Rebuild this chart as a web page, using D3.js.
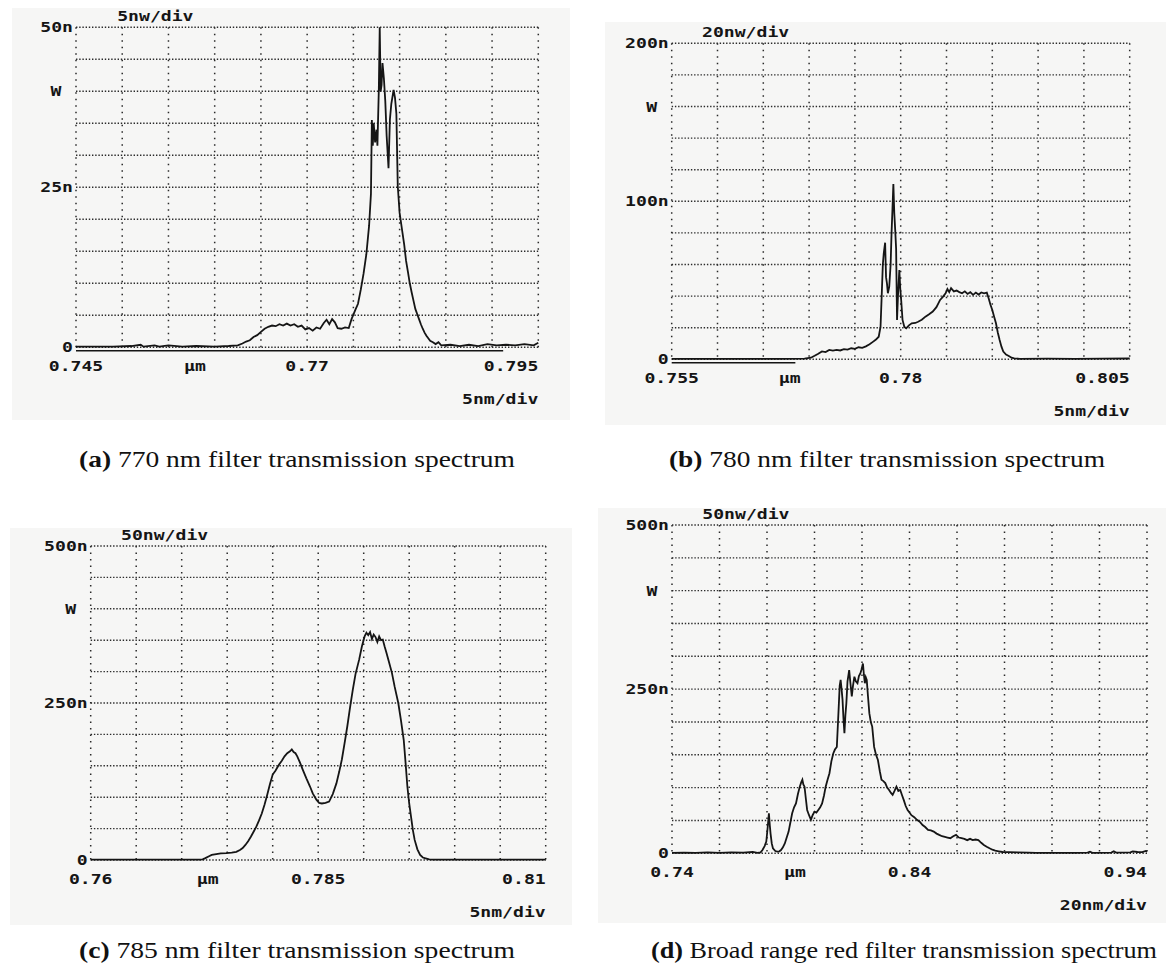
<!DOCTYPE html>
<html>
<head>
<meta charset="utf-8">
<script src="https://cdn.jsdelivr.net/npm/d3@7"></script>
<style>
  body { margin: 0; background: #ffffff; }
  svg { display: block; }
</style>
</head>
<body>
<svg id="fig" width="1173" height="972"></svg>
<script>
// ---------------- Spectra (wavelength in nm, power in nW) ----------------

// (a) 770 nm filter
const wavelengthA = [745.0,747.0,749.0,751.0,752.0,752.3,753.5,754.0,755.0,756.5,758.0,760.0,761.5,762.5,763.0,763.4,763.8,764.2,764.6,765.0,765.4,765.8,766.2,766.6,767.0,767.4,767.8,768.2,768.6,769.0,769.4,769.8,770.2,770.6,771.0,771.4,771.8,772.1,772.4,772.7,773.0,773.3,773.7,774.1,774.5,774.8,775.2,775.5,775.8,776.1,776.4,776.7,776.9,777.0,777.1,777.2,777.35,777.5,777.6,777.75,777.85,777.95,778.05,778.15,778.3,778.45,778.6,778.8,778.95,779.1,779.35,779.5,779.65,779.8,780.0,780.3,780.5,780.7,780.9,781.1,781.3,781.5,781.7,781.9,782.1,782.3,782.5,782.7,782.9,783.1,783.3,783.6,783.9,784.2,784.5,785.5,786.5,787.5,788.5,789.5,790.5,791.5,792.5,793.5,794.5,795.0];
const powerA = [0.1,0.1,0.1,0.2,0.4,0.1,0.3,0.1,0.3,0.1,0.2,0.1,0.2,0.3,0.6,0.9,1.1,1.6,1.9,2.4,2.9,3.2,3.4,3.3,3.6,3.4,3.7,3.4,3.6,3.2,3.4,2.8,3.0,2.6,3.1,2.9,3.8,4.3,3.6,4.4,3.9,3.0,2.9,3.1,3.0,4.4,5.8,6.8,9.0,11.5,14.5,19.0,24.0,35.5,31.5,35.0,32.0,34.0,31.5,40.2,50.0,40.0,41.0,44.4,42.0,38.5,33.0,28.0,35.6,38.0,40.2,39.0,36.5,25.2,21.0,18.0,16.0,13.5,11.8,10.0,8.6,7.3,6.0,5.2,4.4,3.6,2.9,2.3,1.8,1.4,1.0,0.8,0.5,0.8,0.3,0.4,0.2,0.4,0.2,0.5,0.3,0.4,0.3,0.5,0.3,0.7];

// (b) 780 nm filter
const wavelengthB = [755.0,758.0,761.0,764.0,767.0,769.5,770.2,770.6,771.0,771.4,771.8,772.2,772.6,773.0,773.4,773.8,774.2,774.6,775.0,775.4,775.8,776.2,776.6,777.0,777.3,777.6,777.8,777.95,778.05,778.15,778.3,778.4,778.5,778.6,778.75,778.9,779.0,779.1,779.2,779.3,779.4,779.5,779.6,779.7,779.85,779.95,780.05,780.2,780.4,780.6,780.9,781.2,781.6,781.9,782.3,782.7,783.1,783.5,783.9,784.3,784.6,784.9,785.1,785.3,785.5,785.8,786.1,786.4,786.7,787.0,787.3,787.6,787.9,788.2,788.5,788.8,789.1,789.4,789.6,789.8,790.0,790.2,790.4,790.6,790.8,791.0,791.2,791.5,791.8,792.1,792.4,793.0,796.0,799.0,802.0,805.0];
const powerB = [0.3,0.3,0.3,0.3,0.3,0.4,1.0,2.2,3.5,5.0,4.6,5.9,5.5,6.0,5.6,6.4,6.1,7.0,6.6,7.6,7.2,8.2,9.5,11.2,12.5,14.3,20.7,44,60,67,73.8,52,48,41.8,46,60,79.7,95,111,92.4,81.9,70,24.9,39.7,56.5,45,37.6,24.9,20.5,19.6,21.5,22.8,23.0,23.8,25.0,27.0,28.5,30.2,33,37.6,39.5,41.8,44.5,42.5,45,43,43.5,42.5,41.8,43,41.4,42.5,40.8,42.2,41.0,42.3,41.8,42.2,38.6,34.5,31.2,27.0,22.8,17.0,12.2,8.0,4.9,3.0,2.1,1.0,0.6,0.3,0.4,0.3,0.4,0.5];

// (c) 785 nm filter
const wavelengthC = [760,764,768,772,772.3,772.6,773.0,773.3,773.8,774.3,774.9,775.5,776.0,776.4,776.7,777.0,777.3,777.6,777.9,778.2,778.5,778.8,779.1,779.4,779.7,780.0,780.3,780.7,781.0,781.3,781.6,781.9,782.1,782.3,782.5,782.7,783.0,783.3,783.7,784.1,784.4,784.8,785.1,785.4,785.8,786.2,786.6,787.0,787.3,787.6,787.9,788.2,788.5,788.8,789.1,789.5,789.8,790.1,790.3,790.5,790.7,790.9,791.1,791.3,791.5,791.7,791.9,792.1,792.3,792.5,792.8,793.1,793.4,793.8,794.1,794.4,794.6,794.8,795.0,795.2,795.4,795.6,795.9,796.2,796.5,796.8,797.2,797.6,800,805,810];
const powerC = [0.5,0.5,0.5,0.5,1.0,3,6,8,9.5,10.6,11.0,11.7,13,16,19,24,30,37,45,53,63,74,88,104,121,136,142,152,158,165,170,173,176,172,170,165,155,144,130,117,106,96,91,90,91,93,105,122,140,160,186,213,243,271,296,319,340,356,362,358,363,352,359,355,347,356,350,351,340,330,314,298,276,250,222,191,155,117,90,69,48,32,17,8,4,2.7,1,0.5,0.5,0.5,0.5];

// (d) broad range red filter
const wavelengthD = [740,745,750,755,760,765,770,774,776,777.3,778.1,779.0,779.7,780.3,780.8,781.2,781.5,782.0,782.5,783.5,784.4,785.2,785.9,786.7,787.5,788.3,789.1,789.9,790.6,791.4,792.2,793.0,793.8,794.4,794.9,795.3,795.8,796.3,796.9,797.7,798.5,799.2,800.0,800.8,801.6,802.4,803.2,804.0,804.7,805.5,806.3,807.1,807.9,808.6,809.4,809.9,810.2,810.6,811.0,811.4,811.8,812.2,812.6,813.0,813.4,813.9,814.6,815.1,815.7,816.2,816.8,817.4,818.1,818.7,819.3,819.8,820.4,820.8,821.2,821.6,822.0,822.5,823.1,823.7,824.3,825.1,825.9,826.7,827.5,828.2,829.0,829.8,830.6,831.4,832.2,832.9,833.7,834.5,835.3,836.1,836.9,837.6,838.4,839.2,840.0,840.8,842.0,843.1,844.3,845.5,846.6,847.8,849.0,850.2,851.4,852.5,853.7,854.9,856.0,857.2,858.4,859.6,860.8,861.9,863.1,864.3,865.5,866.6,867.8,869.0,870.2,871.3,872.5,873.7,874.9,876.1,877.6,879.2,882,885.5,890,893.3,900,905,910,915,916,917,925,926,927,933,934,936,938,939.5,940];
const powerD = [0.5,0.8,0.5,1.5,0.5,1.5,1.0,2.0,0.8,1.5,5,11,18,40,61,42,30,15,7.6,3.5,2.5,3.0,5,9,15,24,33,48,61,70,76,90,101.5,108,112,105,101.5,85,66,58,51,58,63.5,62,66,70,76,88,101.5,112,122,140,152,158,162,200,223,255,264,250,234,205,183,210,228,262,279,260,239,255,269,262,259,270,274,280,289,272,259,268,264,240,213,200,193,162,150,142,125,112,110,107,100,96.4,92,89,95,101.5,95,96.4,88,81,72,66,62,58,55,51,48,43,40,35.5,35,33,30,28,26,25,24,23,26,28,24,23,22,20,22,20,21,20,16,12.7,10,7.6,5.5,4,3,2,1.8,1.5,1.0,0.5,0.5,0.5,0.5,1.0,2.5,0.8,1.0,3.0,1.0,1.5,3.0,2.0,1.8,3.5,2.5];

// Axis ranges and printed labels
const domainsX = { a: [745, 795], b: [755, 805], c: [760, 810], d: [740, 940] };
const maxY = { a: 50, b: 200, c: 500, d: 500 };
const xTickLabels = {
  a: ["0.745", "0.77", "0.795"],
  b: ["0.755", "0.78", "0.805"],
  c: ["0.76", "0.785", "0.81"],
  d: ["0.74", "0.84", "0.94"]
};
const yTickLabels = {
  a: ["50n", "25n", "0"],
  b: ["200n", "100n", "0"],
  c: ["500n", "250n", "0"],
  d: ["500n", "250n", "0"]
};
const yDivLabels = { a: "5nw/div", b: "20nw/div", c: "50nw/div", d: "50nw/div" };
const xDivLabels = { a: "5nm/div", b: "5nm/div", c: "5nm/div", d: "20nm/div" };
// wavelength span of the recorder's reference bar under the zero line
const refBar = { a: [745, 791.2], b: [755, 768.5] };
const captions = {
  a: ["(a)", " 770 nm filter transmission spectrum"],
  b: ["(b)", " 780 nm filter transmission spectrum"],
  c: ["(c)", " 785 nm filter transmission spectrum"],
  d: ["(d)", " Broad range red filter transmission spectrum"]
};

// ---------------- Layout ----------------
const layout = {
  a: { left: 76,    right: 538.3,  top: 27.3, bottom: 347.3, paper: [12, 8, 558, 412],   umOff: 119, capX: 297, capY: 467, capW: 436 },
  b: { left: 671.7, right: 1129.7, top: 43.3, bottom: 359.3, paper: [605, 22, 561, 403], umOff: 118, capX: 887, capY: 467, capW: 436 },
  c: { left: 90.7,  right: 545.7,  top: 546,  bottom: 860,   paper: [10, 528, 562, 397], umOff: 117, capX: 297, capY: 958, capW: 436 },
  d: { left: 672,   right: 1147,   top: 525,  bottom: 853.3, paper: [598, 508, 568, 415],umOff: 123, capX: 904, capY: 958, capW: 506 }
};
const series = {
  a: d3.zip(wavelengthA, powerA),
  b: d3.zip(wavelengthB, powerB),
  c: d3.zip(wavelengthC, powerC),
  d: d3.zip(wavelengthD, powerD)
};

const svg = d3.select("#fig");
const monoFont = "'DejaVu Sans Mono', 'Liberation Mono', monospace";
const charW = 10.9;
const ink = "#151515";

function monoText(g, str, x, y, anchor) {
  return g.append("text")
    .attr("x", x).attr("y", y)
    .attr("text-anchor", anchor)
    .attr("font-family", monoFont)
    .attr("font-weight", "bold")
    .attr("font-size", 14.5)
    .attr("fill", ink)
    .attr("textLength", str.length * charW)
    .attr("lengthAdjust", "spacingAndGlyphs")
    .text(str);
}

["a", "b", "c", "d"].forEach(key => {
  const L = layout[key];
  const g = svg.append("g").attr("class", "panel-" + key);

  // scanned paper tone
  g.append("rect")
    .attr("x", L.paper[0]).attr("y", L.paper[1])
    .attr("width", L.paper[2]).attr("height", L.paper[3])
    .attr("fill", "#f6f6f5");

  const x = d3.scaleLinear().domain(domainsX[key]).range([L.left, L.right]);
  const y = d3.scaleLinear().domain([0, maxY[key]]).range([L.bottom, L.top]);

  // dotted 10 x 10 graticule
  const xDiv = d3.range(11).map(i => domainsX[key][0] + i * (domainsX[key][1] - domainsX[key][0]) / 10);
  const yDiv = d3.range(11).map(i => i * maxY[key] / 10);
  g.selectAll("line.vg").data(xDiv).join("line")
    .attr("class", "vg")
    .attr("x1", d => x(d)).attr("x2", d => x(d))
    .attr("y1", L.top).attr("y2", L.bottom)
    .attr("stroke", "#2a2a2a").attr("stroke-width", 1.5)
    .attr("stroke-dasharray", "1.5 5");
  g.selectAll("line.hg").data(yDiv).join("line")
    .attr("class", "hg")
    .attr("x1", L.left).attr("x2", L.right)
    .attr("y1", d => y(d)).attr("y2", d => y(d))
    .attr("stroke", "#2a2a2a").attr("stroke-width", 1.4)
    .attr("stroke-dasharray", "1.4 1.8");

  // reference bar below the zero line
  if (refBar[key]) {
    g.append("line")
      .attr("x1", x(refBar[key][0])).attr("x2", x(refBar[key][1]))
      .attr("y1", y(0) + 3.5).attr("y2", y(0) + 3.5)
      .attr("stroke", ink).attr("stroke-width", 1.5);
  }

  // spectrum trace
  const line = d3.line().x(d => x(d[0])).y(d => y(d[1]));
  g.append("path")
    .datum(series[key])
    .attr("d", line)
    .attr("fill", "none")
    .attr("stroke", ink)
    .attr("stroke-width", 1.8)
    .attr("stroke-linejoin", "miter");

  // vertical scale labels
  const yVals = [maxY[key], maxY[key] / 2, 0];
  yTickLabels[key].forEach((t, i) => monoText(g, t, L.left - 3, y(yVals[i]) + 5, "end"));
  monoText(g, "W", L.left - 20, y(maxY[key] * 0.8) + 5, "middle");
  monoText(g, yDivLabels[key], L.left + 117.5, L.top - 6, "end");

  // horizontal scale labels
  const xDom = domainsX[key];
  const xVals = [xDom[0], (xDom[0] + xDom[1]) / 2, xDom[1]];
  xTickLabels[key].forEach((t, i) => {
    const anchor = i === 2 ? "end" : "middle";
    monoText(g, t, x(xVals[i]), L.bottom + 24, anchor);
  });
  monoText(g, "\u00b5m", L.left + L.umOff, L.bottom + 24, "middle");
  monoText(g, xDivLabels[key], L.right, L.bottom + 56.5, "end");

  // caption
  const cap = svg.append("text")
    .attr("x", L.capX).attr("y", L.capY)
    .attr("text-anchor", "middle")
    .attr("font-family", "'Liberation Serif', 'DejaVu Serif', serif")
    .attr("font-size", 23)
    .attr("fill", "#111")
    .attr("textLength", L.capW)
    .attr("lengthAdjust", "spacingAndGlyphs");
  cap.append("tspan").attr("font-weight", "bold").text(captions[key][0]);
  cap.append("tspan").text(captions[key][1]);
});
</script>
</body>
</html>
